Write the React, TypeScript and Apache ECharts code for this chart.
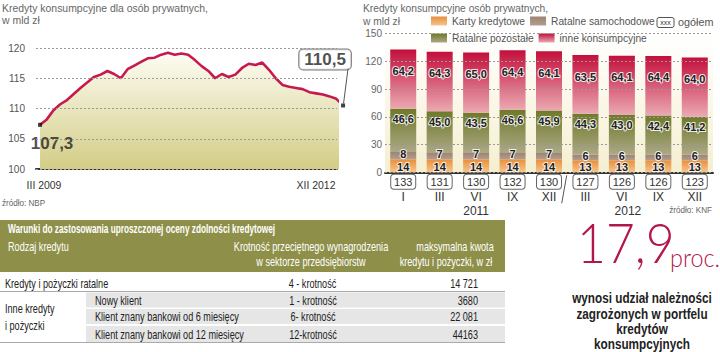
import React, { useEffect, useRef } from 'react';
import * as echarts from 'echarts';

// ---------- data: left line chart (monthly, III 2009 .. XII 2012), bn PLN ----------
const lineValues = [
  107.3, 108.2, 109.7, 110.7, 111.4, 112.4, 113.4, 114.3, 115.2, 115.6,
  116.2, 115.7, 115.0, 116.5, 117.1, 117.7, 118.3, 118.4, 118.9, 119.2,
  118.9, 119.1, 118.9, 118.0, 117.0, 116.2, 115.0, 115.7, 115.2, 115.6,
  116.7, 117.4, 117.2, 117.6, 116.4, 115.0, 113.9, 113.6, 113.4, 113.2,
  112.7, 112.5, 112.3, 112.0, 111.6, 110.5,
];
const lineStartLabel = 'III 2009';
const lineEndLabel = 'XII 2012';
const lineYTicks = { min: 100, max: 120, interval: 5 };

// ---------- data: right stacked bar chart ----------
const barMonths = ['I', 'III', 'VI', 'IX', 'XII', 'III', 'VI', 'IX', 'XII'];
const barYears = ['2011', '2011', '2011', '2011', '2011', '2012', '2012', '2012', '2012'];
const kartyKredytowe = [14, 14, 14, 14, 14, 13, 13, 13, 13];
const ratalneSamochodowe = [8, 7, 7, 7, 7, 6, 6, 6, 6];
const ratalnePozostale = [46.6, 45.0, 43.5, 46.6, 45.9, 44.3, 43.0, 42.4, 41.2];
const inneKonsumpcyjne = [64.2, 64.3, 65.0, 64.4, 64.1, 63.5, 64.1, 64.4, 64.0];
const ogolem = [133, 131, 130, 132, 130, 127, 126, 126, 123];
const barYTicks = { min: 0, max: 150, interval: 30 };

// ---------- data: table ----------
const tableTitle = 'Warunki do zastosowania uproszczonej oceny zdolności kredytowej';
const tableHead = ['Rodzaj kredytu', 'Krotność przeciętnego wynagrodzenia', 'w sektorze przedsiębiorstw', 'maksymalna kwota', 'kredytu i pożyczki, w zł'];
const rowMain = ['Kredyty i pożyczki ratalne', '4 - krotność', '14 721'];
const rowGroup = ['Inne kredyty', 'i pożyczki'];
const rowsSub = [
  ['Nowy klient', '1 - krotność', '3680'],
  ['Klient znany bankowi od 6 miesięcy', '6- krotność', '22 081'],
  ['Klient znany bankowi od 12 miesięcy', '12-krotność', '44163'],
];
const bigNumber = '17,9';
const bigUnit = 'proc.';
const bigText = ['wynosi udział należności', 'zagrożonych w portfelu', 'kredytów', 'konsumpcyjnych'];

const FONT = '"Liberation Sans", Arial, sans-serif';
const fmt1 = (v: number) => v.toFixed(1).replace('.', ',');

const T = (x: number, y: number, text: string, o: any = {}) => ({
  type: 'text',
  x,
  y,
  scaleX: o.sx ?? 1,
  z: 20,
  style: {
    text,
    x: 0,
    y: 0,
    fill: o.c ?? '#222',
    fontSize: o.s ?? 12,
    fontFamily: o.f ?? FONT,
    fontWeight: o.w ?? 'normal',
    align: o.a ?? 'left',
    textAlign: o.a ?? 'left',
    verticalAlign: 'middle',
    textVerticalAlign: 'middle',
  },
});
const R = (x: number, y: number, w: number, h: number, fill: string, extra: any = {}) => ({
  type: 'rect',
  z: 5,
  shape: { x, y, width: w, height: h, r: extra.r ?? 0 },
  style: { fill, stroke: extra.stroke, lineWidth: extra.lw ?? 0 },
});
const L = (x1: number, y1: number, x2: number, y2: number, stroke: string, lw = 1) => ({
  type: 'line',
  z: 6,
  shape: { x1, y1, x2, y2 },
  style: { stroke, lineWidth: lw },
});

const grad = (a: string, b: string) =>
  new echarts.graphic.LinearGradient(0, 0, 0, 1, [
    { offset: 0, color: a },
    { offset: 1, color: b },
  ]);

export default function App() {
  const ref = useRef<HTMLDivElement>(null);
  useEffect(() => {
    if (!ref.current) return;
    const chart = echarts.init(ref.current, undefined, { renderer: 'svg' });
    const cats = barMonths.map((m, i) => `${m} ${barYears[i]}`);
    const lastIdx = lineValues.length - 1;

    const barLabel = (extra: any) => ({
      show: true,
      color: '#222',
      fontFamily: FONT,
      fontWeight: 'bold',
      fontSize: 11,
      textBorderColor: 'rgba(255,255,255,0.85)',
      textBorderWidth: 2,
      ...extra,
    });

    const legendText = { fontSize: 10.2, color: '#555', fontFamily: FONT };
    const option: any = {
      animation: false,
      backgroundColor: '#fff',
      textStyle: { fontFamily: FONT },
      legend: [
        {
          data: ['Karty kredytowe', 'Ratalne samochodowe'],
          left: 431, top: 16, padding: 0, itemWidth: 16, itemHeight: 9, itemGap: 5,
          icon: 'rect', selectedMode: false, textStyle: legendText,
        },
        {
          data: ['Ratalne pozostałe', 'inne konsumpcyjne'],
          left: 431, top: 33, padding: 0, itemWidth: 16, itemHeight: 9, itemGap: 5,
          icon: 'rect', selectedMode: false, textStyle: legendText,
        },
      ],
      grid: [
        { left: 36, right: 383, top: 48, bottom: 183 },
        {
          left: 385, right: 7, top: 33.6, bottom: 179.7, show: true, borderWidth: 0,
          backgroundColor: grad('#ffffff', '#f5efd0'),
        },
      ],
      xAxis: [
        {
          type: 'value', gridIndex: 0, min: -0.6, max: 44.1,
          axisLine: { show: true, onZero: false, lineStyle: { color: '#333', width: 2 } },
          axisTick: { show: false }, axisLabel: { show: false }, splitLine: { show: false },
        },
        {
          type: 'category', gridIndex: 1, data: cats,
          axisLine: { show: true, lineStyle: { color: '#333', width: 2 } },
          axisTick: { show: false },
          axisLabel: {
            margin: 3,
            interval: 0,
            formatter: (_v: string, i: number) => {
              const parts = [`{b|${ogolem[i]}}`, `{m|${barMonths[i]}}`];
              if (i === 2) parts.push(`{y|${barYears[i]}}`);
              if (i === 6) parts.push(`{y2|${barYears[i]}}`);
              return parts.join('\n');
            },
            rich: {
              b: {
                fontSize: 11, color: '#333', fontFamily: FONT, borderColor: '#666', borderWidth: 1,
                borderRadius: 3, width: 24, align: 'center', padding: [2, 0, 1, 0], lineHeight: 13,
                backgroundColor: '#fff',
              },
              m: { fontSize: 12, color: '#333', fontFamily: FONT, lineHeight: 18 },
              y: { fontSize: 12, color: '#333', fontFamily: FONT, lineHeight: 10 },
              y2: { fontSize: 12, color: '#333', fontFamily: FONT, lineHeight: 10, padding: [0, 0, 0, 12] },
            },
          },
        },
      ],
      yAxis: [
        {
          type: 'value', gridIndex: 0, ...lineYTicks, z: 5,
          axisLine: { show: false }, axisTick: { show: false },
          axisLabel: { color: '#555', fontSize: 10, margin: 11 },
          splitLine: { show: true, lineStyle: { color: '#999', type: [2, 2], width: 1 } },
        },
        {
          type: 'value', gridIndex: 1, ...barYTicks, z: 5,
          axisLine: { show: false }, axisTick: { show: false },
          axisLabel: { color: '#666', fontSize: 10, margin: 3 },
          splitLine: { show: true, lineStyle: { color: '#999', type: [2, 2], width: 1 } },
        },
      ],
      series: [
        {
          type: 'line', xAxisIndex: 0, yAxisIndex: 0, clip: false,
          data: lineValues.map((v, i) => [i, v]),
          showSymbol: false, symbol: 'none',
          lineStyle: { color: '#c71a4c', width: 2.6 },
          itemStyle: { color: '#c71a4c' },
          areaStyle: { color: grad('#fdfcf3', '#d3cd86'), opacity: 1, origin: 'start' },
          z: 2,
        },
        {
          type: 'scatter', xAxisIndex: 0, yAxisIndex: 0, clip: false,
          symbol: 'rect', symbolSize: 4, itemStyle: { color: '#111' }, z: 4,
          data: [
            {
              value: [0, lineValues[0]],
              label: {
                show: true, position: 'inside', offset: [12, 19], formatter: fmt1(lineValues[0]),
                fontSize: 17, fontWeight: 'bold', color: '#222', fontFamily: FONT,
              },
            },
            {
              value: [lastIdx, lineValues[lastIdx]],
              label: {
                show: true, position: 'inside', offset: [-18, -46], formatter: fmt1(lineValues[lastIdx]),
                fontSize: 17, fontWeight: 'bold', color: '#222', fontFamily: FONT,
                backgroundColor: '#fff', borderColor: '#555', borderWidth: 1, borderRadius: 4,
                padding: [2, 5, 1, 5],
              },
            },
          ],
        },
        {
          name: 'Karty kredytowe', type: 'bar', stack: 'k', xAxisIndex: 1, yAxisIndex: 1,
          barWidth: 26, data: kartyKredytowe,
          itemStyle: { color: grad('#e98f3c', '#f5c58c') },
          label: barLabel({ position: 'inside', offset: [0, 1] }),
        },
        {
          name: 'Ratalne samochodowe', type: 'bar', stack: 'k', xAxisIndex: 1, yAxisIndex: 1,
          barWidth: 26, data: ratalneSamochodowe,
          itemStyle: { color: grad('#9c8575', '#b59c8b') },
          label: barLabel({ position: 'inside', offset: [0, -2] }),
        },
        {
          name: 'Ratalne pozostałe', type: 'bar', stack: 'k', xAxisIndex: 1, yAxisIndex: 1,
          barWidth: 26, data: ratalnePozostale,
          itemStyle: { color: grad('#6e7a28', '#aca886') },
          label: barLabel({ position: 'insideTop', distance: 5, formatter: (p: any) => fmt1(p.value) }),
        },
        {
          name: 'inne konsumpcyjne', type: 'bar', stack: 'k', xAxisIndex: 1, yAxisIndex: 1,
          barWidth: 26, data: inneKonsumpcyjne,
          itemStyle: { color: grad('#c30f3b', '#eba9b2') },
          label: barLabel({ position: 'insideTop', distance: 16, formatter: (p: any) => fmt1(p.value) }),
        },
      ],
    };
    chart.setOption(option);

    // positions derived from the chart's own scales
    const lastPt = chart.convertToPixel({ seriesIndex: 0 }, [lastIdx, lineValues[lastIdx]]) as number[];
    const x4 = chart.convertToPixel({ xAxisIndex: 1 }, 4) as number;
    const x5 = chart.convertToPixel({ xAxisIndex: 1 }, 5) as number;
    const y0 = chart.convertToPixel({ yAxisIndex: 1 }, 0) as number;
    const sepX = (x4 + x5) / 2;

    const sx = 0.76;
    const graphic: any[] = [
      // titles
      T(2, 8, 'Kredyty konsumpcyjne dla osób prywatnych,', { s: 11, c: '#666', sx: 0.95 }),
      T(2, 20, 'w mld zł', { s: 11, c: '#666', sx: 0.95 }),
      T(363, 8, 'Kredyty konsumpcyjne osób prywatnych,', { s: 11, c: '#666', sx: 0.93 }),
      T(363, 21, 'w mld zł', { s: 11, c: '#666', sx: 0.93 }),
      // legend extra
      R(657, 17.5, 17, 10, '#fff', { stroke: '#555', lw: 1, r: 2 }),
      T(665.5, 22.5, 'xxx', { s: 7, c: '#333', a: 'center' }),
      T(678, 22, 'ogółem', { s: 10.8, c: '#555' }),
      // line chart x labels
      T(44, 185, lineStartLabel, { s: 11, c: '#333', a: 'center', sx: 0.95 }),
      T(316, 185, lineEndLabel, { s: 11, c: '#333', a: 'center', sx: 0.95 }),
      L(lastPt[0] + 5, lastPt[1] - 37, lastPt[0] + 0.5, lastPt[1] - 2, '#555', 1),
      // sources
      T(2, 203, 'źródło: NBP', { s: 9, c: '#666', sx: 0.9 }),
      T(712, 210, 'źródło: KNF', { s: 9, c: '#666', a: 'right', sx: 0.9 }),
      // year separator
      L(sepX - 0.5, y0 + 3, sepX - 5.5, y0 + 31, '#555', 1),
      // table
      R(0, 220, 505, 52, '#8e9049'),
      T(8, 228.5, tableTitle, { s: 12.5, c: '#fff', w: 'bold', sx: 0.66 }),
      T(8, 246, tableHead[0], { s: 12, c: '#fff', sx }),
      T(311, 246, tableHead[1], { s: 12, c: '#fff', a: 'center', sx }),
      T(311, 261, tableHead[2], { s: 12, c: '#fff', a: 'center', sx }),
      T(455, 246, tableHead[3], { s: 12, c: '#fff', a: 'center', sx }),
      T(446, 261, tableHead[4], { s: 12, c: '#fff', a: 'center', sx }),
      T(5, 283, rowMain[0], { s: 12, sx }),
      T(312.5, 283, rowMain[1], { s: 12, a: 'center', sx }),
      T(478, 283, rowMain[2], { s: 12, a: 'right', sx }),
      L(0, 291.5, 505, 291.5, '#aaa', 1),
      T(5, 308, rowGroup[0], { s: 12, sx }),
      T(5, 325, rowGroup[1], { s: 12, sx }),
      L(0, 342.5, 505, 342.5, '#aaa', 1),
    ];
    const rowTops = [292.5, 309, 326];
    rowsSub.forEach((r, i) => {
      const top = rowTops[i];
      const h = i === 2 ? 16 : 15;
      const cy = top + h / 2 + 0.3;
      graphic.push(R(86, top, 419, h, '#e6e6e6'));
      graphic.push(T(95, cy, r[0], { s: 12, sx }));
      graphic.push(T(313, cy, r[1], { s: 12, a: 'center', sx }));
      graphic.push(T(478, cy, r[2], { s: 12, a: 'right', sx }));
    });
    // right statement
    graphic.push(T(577, 241, bigNumber, { s: 56, c: '#b3164a', f: 'Lato, "Liberation Sans"', w: 300, sx: 0.89 }));
    graphic.push(T(670, 257, bigUnit, { s: 26, c: '#b3164a', f: 'Lato, "Liberation Sans"', w: 300, sx: 0.9 }));
    const lineYs = [298, 314, 329, 344];
    bigText.forEach((s, i) => graphic.push(T(642, lineYs[i], s, { s: 14, w: 'bold', a: 'center', sx: 0.84 })));

    chart.setOption({ graphic });
    return () => chart.dispose();
  }, []);
  return (
    <div
      ref={ref}
      style={{ position: 'fixed', left: 0, top: 0, width: 720, height: 352, background: '#fff' }}
    />
  );
}
